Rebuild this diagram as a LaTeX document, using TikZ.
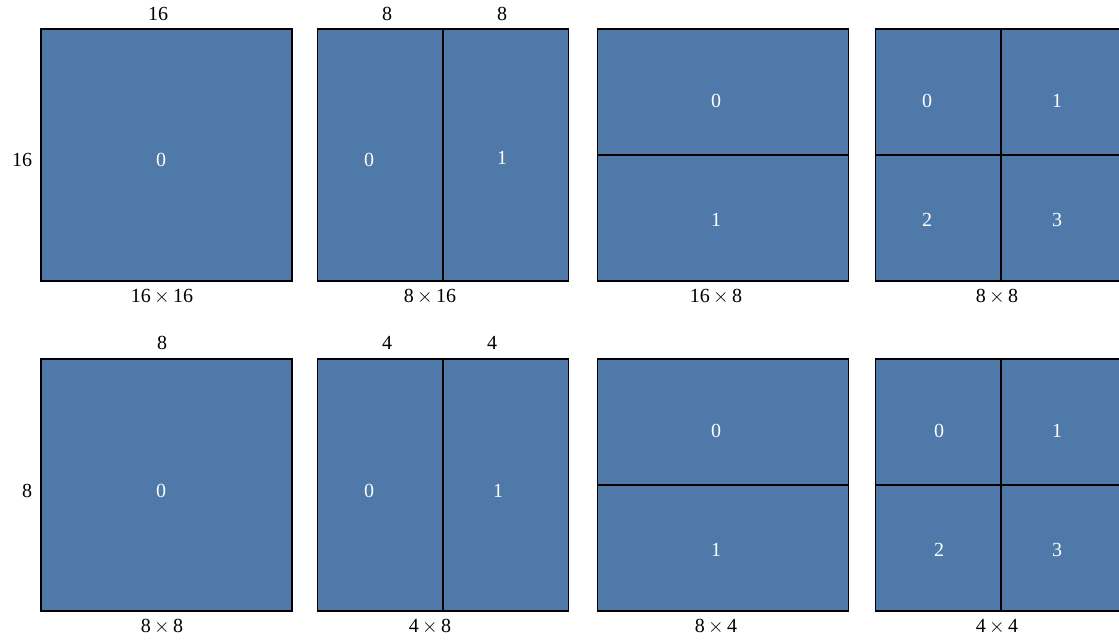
\documentclass[tikz,border=0pt]{standalone}
\usepackage{fontspec}
\setmainfont{Liberation Serif}
\usetikzlibrary{positioning}
\definecolor{blockBlue}{HTML}{4F79A8}

\begin{document}
\begin{tikzpicture}[x=0.5pt, y=-0.5pt,
    block/.style={draw=black, line width=0.65pt, rectangle, fill=blockBlue, minimum width=125.5pt, minimum height=126pt, inner sep=0pt},
    split/.style={draw=black, line width=0.65pt},
    idx/.style={text=white, font=\normalsize},
    dim/.style={text=black, font=\normalsize},
]
\useasboundingbox (0,0) rectangle (1119,640);
% top row: 16 x 16 block
\node[block] (a1) at (166.5,155) {};
\node[block] (b1) at (443,155) {};
\node[block] (c1) at (723,155) {};
\node[block] (d1) at (1001,155) {};
\draw[split] (b1.north) -- (b1.south);
\draw[split] (c1.west) -- (c1.east);
\draw[split] (d1.north) -- (d1.south);
\draw[split] (d1.west) -- (d1.east);
% bottom row: 8 x 8 block
\node[block] (a2) at (166.5,485) {};
\node[block] (b2) at (443,485) {};
\node[block] (c2) at (723,485) {};
\node[block] (d2) at (1001,485) {};
\draw[split] (b2.north) -- (b2.south);
\draw[split] (c2.west) -- (c2.east);
\draw[split] (d2.north) -- (d2.south);
\draw[split] (d2.west) -- (d2.east);

% indices
\node[idx] (a1i0) at (161,160) {0};
\node[idx] (b1i0) at (369,160) {0};
\node[idx] (b1i1) at (502,158) {1};
\node[idx] (c1i0) at (716,101) {0};
\node[idx] (c1i1) at (716,220) {1};
\node[idx] (d1i0) at (927,101) {0};
\node[idx] (d1i1) at (1057,101) {1};
\node[idx] (d1i2) at (927,220) {2};
\node[idx] (d1i3) at (1057,220) {3};
\node[idx] (a2i0) at (161,491) {0};
\node[idx] (b2i0) at (369,491) {0};
\node[idx] (b2i1) at (498,491) {1};
\node[idx] (c2i0) at (716,431) {0};
\node[idx] (c2i1) at (716,550) {1};
\node[idx] (d2i0) at (939,431) {0};
\node[idx] (d2i1) at (1057,431) {1};
\node[idx] (d2i2) at (939,550) {2};
\node[idx] (d2i3) at (1057,550) {3};

% sizes
\node[dim] (a1w) at (158,14) {16};
\node[dim] (a1h) at (22,160) {16};
\node[dim] (b1w0) at (387,14) {8};
\node[dim] (b1w1) at (502,14) {8};
\node[dim] (a2w) at (162,343) {8};
\node[dim] (a2h) at (27,491) {8};
\node[dim] (b2w0) at (387,343) {4};
\node[dim] (b2w1) at (492,343) {4};

% captions
\node[dim] (a1c) at (162,297) {16\,$\times$\,16};
\node[dim] (b1c) at (430,297) {8\,$\times$\,16};
\node[dim] (c1c) at (716,297) {16\,$\times$\,8};
\node[dim] (d1c) at (997,297) {8\,$\times$\,8};
\node[dim] (a2c) at (162,627) {8\,$\times$\,8};
\node[dim] (b2c) at (430,627) {4\,$\times$\,8};
\node[dim] (c2c) at (716,627) {8\,$\times$\,4};
\node[dim] (d2c) at (997,627) {4\,$\times$\,4};
\end{tikzpicture}
\end{document}
